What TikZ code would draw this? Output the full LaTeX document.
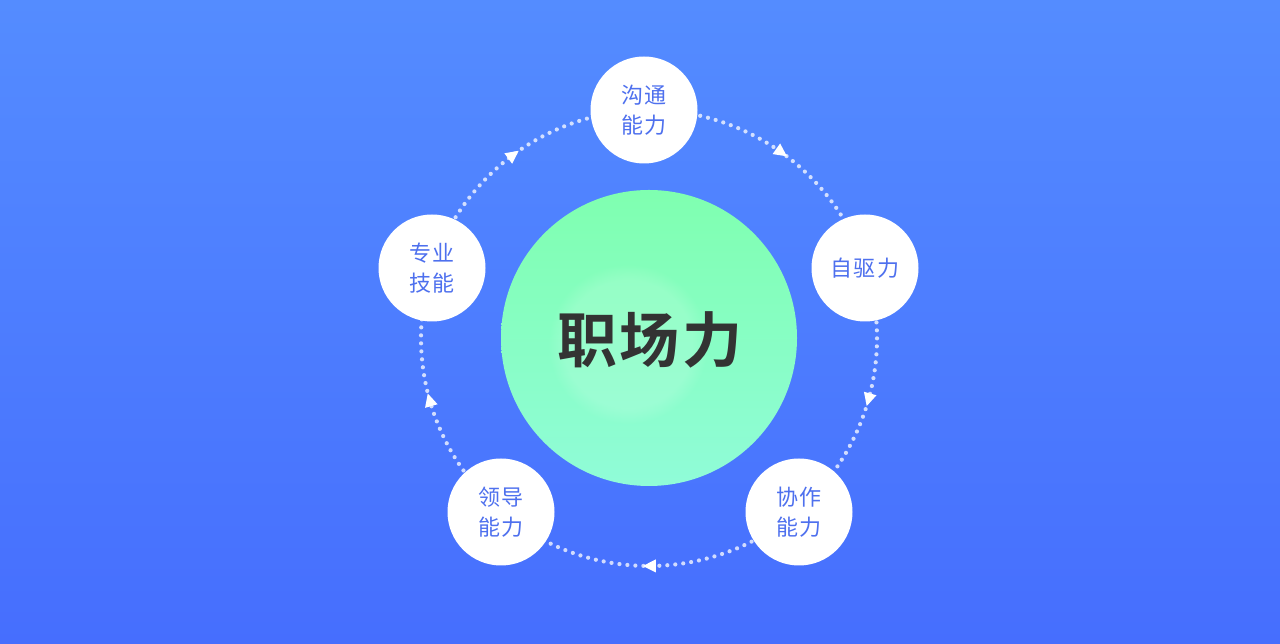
\documentclass[tikz,border=0pt]{standalone}
\usepackage{fontspec}
\newfontfamily\cjk[LetterSpace=8]{Noto Sans CJK SC}
\newfontfamily\cjkbold[LetterSpace=4]{Noto Sans CJK SC Bold}
\usetikzlibrary{decorations.markings,fadings}
\definecolor{bgtop}{RGB}{84,140,255}
\definecolor{bgbot}{RGB}{70,110,254}
\definecolor{mintA}{RGB}{127,255,176}
\definecolor{mintB}{RGB}{144,252,216}
\definecolor{labelblue}{RGB}{78,112,238}
\definecolor{darktext}{RGB}{51,51,51}
\tikzset{
  x=1pt,y=1pt,
  satellite/.style={circle, fill=white, minimum size=107pt, inner sep=0pt,
    text=labelblue, align=center, font=\cjk\fontsize{22}{30}\selectfont},
  ringseg/.style={draw=white, draw opacity=0.75, line width=4.2pt, line cap=round,
    dash pattern=on 0pt off 8pt,
    postaction={decorate},
    decoration={markings, mark=at position 0.5 with {
      \fill[white] (7,0) -- (-6,6.5) -- (-6,-6.5) -- cycle;}}},
}
\begin{document}
\begin{tikzpicture}
\useasboundingbox (0,0) rectangle (1280,644);
\shade[top color=bgtop, bottom color=bgbot] (0,0) rectangle (1280,644);
\coordinate (c) at (649,306);
% ring segments (clockwise)
\draw[ringseg] (c) ++(91.1:228) arc[start angle=91.1, end angle=18, radius=228];
\draw[ringseg] (c) ++(18:228) arc[start angle=18, end angle=-49.2, radius=228];
\draw[ringseg] (c) ++(-49.2:228) arc[start angle=-49.2, end angle=-130.4, radius=228];
\draw[ringseg] (c) ++(-130.4:228) arc[start angle=-130.4, end angle=-197.9, radius=228];
\draw[ringseg] (c) ++(-197.9:228) arc[start angle=-197.9, end angle=-268.9, radius=228];
% center circle
\shade[top color=mintA, bottom color=mintB] (c) circle (148);
\fill[white, fill opacity=0.14, path fading=circle with fuzzy edge 20 percent] (628,300) circle (80);
\node[text=darktext, font=\cjkbold\fontsize{60}{60}\selectfont] (center) at (650,304) {职场力};
% satellites
\node[satellite] (top) at (644,534) {沟通\\能力};
\node[satellite] (right) at (865,376) {自驱力};
\node[satellite] (br) at (799,132) {协作\\能力};
\node[satellite] (bl) at (501,132) {领导\\能力};
\node[satellite] (left) at (432,376) {专业\\技能};
\end{tikzpicture}
\end{document}
